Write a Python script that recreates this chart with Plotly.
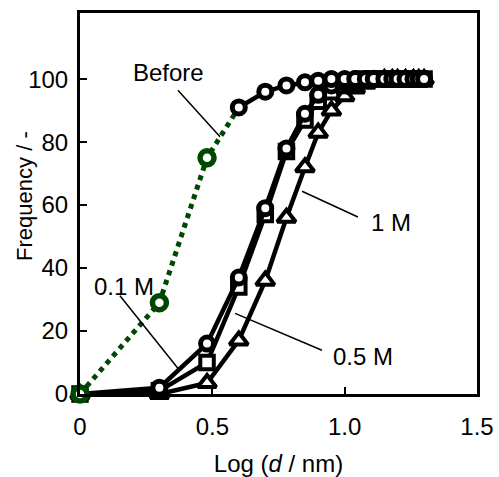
import plotly.graph_objects as go

# ---- data ----
x_log = [0, 0.30, 0.48, 0.60, 0.70, 0.78, 0.85, 0.90, 0.95, 1.00,
         1.04, 1.08, 1.11, 1.15, 1.18, 1.20, 1.23, 1.26, 1.28, 1.30]
before_y = [0, 29, 75, 91, 96, 98, 99, 99.5, 100, 100,
            100, 100, 100, 100, 100, 100, 100, 100, 100, 100]
m01_y = [0, 2, 16, 37, 59, 78, 89, 95, 98, 99,
         100, 100, 100, 100, 100, 100, 100, 100, 100, 100]
m05_y = [0, 1, 10, 34, 57, 77, 87, 93, 96, 98,
         99, 100, 100, 100, 100, 100, 100, 100, 100, 100]
m1_y = [0, 0, 3.5, 17, 36, 56, 72, 83, 90, 94.6,
        97, 98.5, 99.5, 100, 100, 100, 100, 100, 100, 100]

x_tickvals = [0, 0.5, 1.0, 1.5]
x_ticktext = ["0", "0.5", "1.0", "1.5"]
y_tickvals = [0, 20, 40, 60, 80, 100]

# label texts with leader lines (x0, y0, x1, y1) and text position
labels = ["Before", "1 M", "0.5 M", "0.1 M"]
label_pos = [(0.333, 102.2, "center"), (1.092, 54.6, "left"),
             (0.950, 12.0, "left"), (0.168, 34.1, "center")]
leaders = [(0.370, 96.5, 0.529, 81.7), (0.839, 64.4, 1.050, 56.2),
           (0.586, 25.6, 0.914, 13.9), (0.151, 31.2, 0.378, 7.3)]

GREEN = "rgb(0,72,0)"
FONT = "Liberation Sans, Arial, sans-serif"
FS = 24

fig = go.Figure()

def black_trace(x, y, symbol, size, lw=4.5):
    return go.Scatter(
        x=x, y=y, mode="lines+markers", cliponaxis=False,
        line=dict(color="black", width=4.5),
        marker=dict(symbol=symbol, size=size, color="white",
                    line=dict(color="black", width=lw)),
        showlegend=False)

fig.add_trace(black_trace(x_log, m1_y, "triangle-up", 16, 4))
fig.add_trace(black_trace(x_log, m05_y, "square", 13.5, 4))
fig.add_trace(black_trace(x_log, m01_y, "circle", 13, 5))

# Before: green dotted part up to the fourth point, black part after
fig.add_trace(go.Scatter(
    x=x_log[:4], y=before_y[:4], mode="lines", cliponaxis=False,
    line=dict(color=GREEN, width=5, dash="dot"), showlegend=False))
fig.add_trace(go.Scatter(
    x=x_log[:3], y=before_y[:3], mode="markers", cliponaxis=False,
    marker=dict(symbol="circle", size=14, color="white",
                line=dict(color=GREEN, width=5.5)), showlegend=False))
fig.add_trace(black_trace(x_log[3:], before_y[3:], "circle", 13, 5))

for (x0, y0, x1, y1) in leaders:
    fig.add_shape(type="line", x0=x0, y0=y0, x1=x1, y1=y1,
                  xref="x", yref="y", line=dict(color="black", width=1.5))

for txt, (tx, ty, anchor) in zip(labels, label_pos):
    fig.add_annotation(x=tx, y=ty, text=txt, showarrow=False,
                       xanchor=anchor, yanchor="middle",
                       font=dict(family=FONT, size=FS, color="black"))

# y-axis title as rotated text
fig.add_annotation(x=-0.1385, y=0.52, xref="paper", yref="paper",
                   text="Frequency / -", textangle=-90, showarrow=False,
                   xanchor="center", yanchor="middle",
                   font=dict(family=FONT, size=22, color="black"))

axis_common = dict(showgrid=False, zeroline=False, showline=True,
                   linecolor="black", linewidth=3, mirror=True,
                   ticks="inside", ticklen=7, tickwidth=2, tickcolor="black",
                   automargin=False,
                   tickfont=dict(family=FONT, size=FS, color="black"))

fig.update_xaxes(range=[0, 1.5], tickvals=x_tickvals, ticktext=x_ticktext,
                 ticklabelstandoff=9,
                 title=dict(text="Log (<i>d</i> / nm)", standoff=24,
                            font=dict(family=FONT, size=FS, color="black")),
                 **axis_common)
fig.update_yaxes(range=[0, 121], tickvals=y_tickvals,
                 ticklabelstandoff=4,
                 **axis_common)

fig.update_layout(width=499, height=477,
                  margin=dict(l=80, r=22, t=13, b=83),
                  paper_bgcolor="white", plot_bgcolor="white")

fig.write_html("out.html")
